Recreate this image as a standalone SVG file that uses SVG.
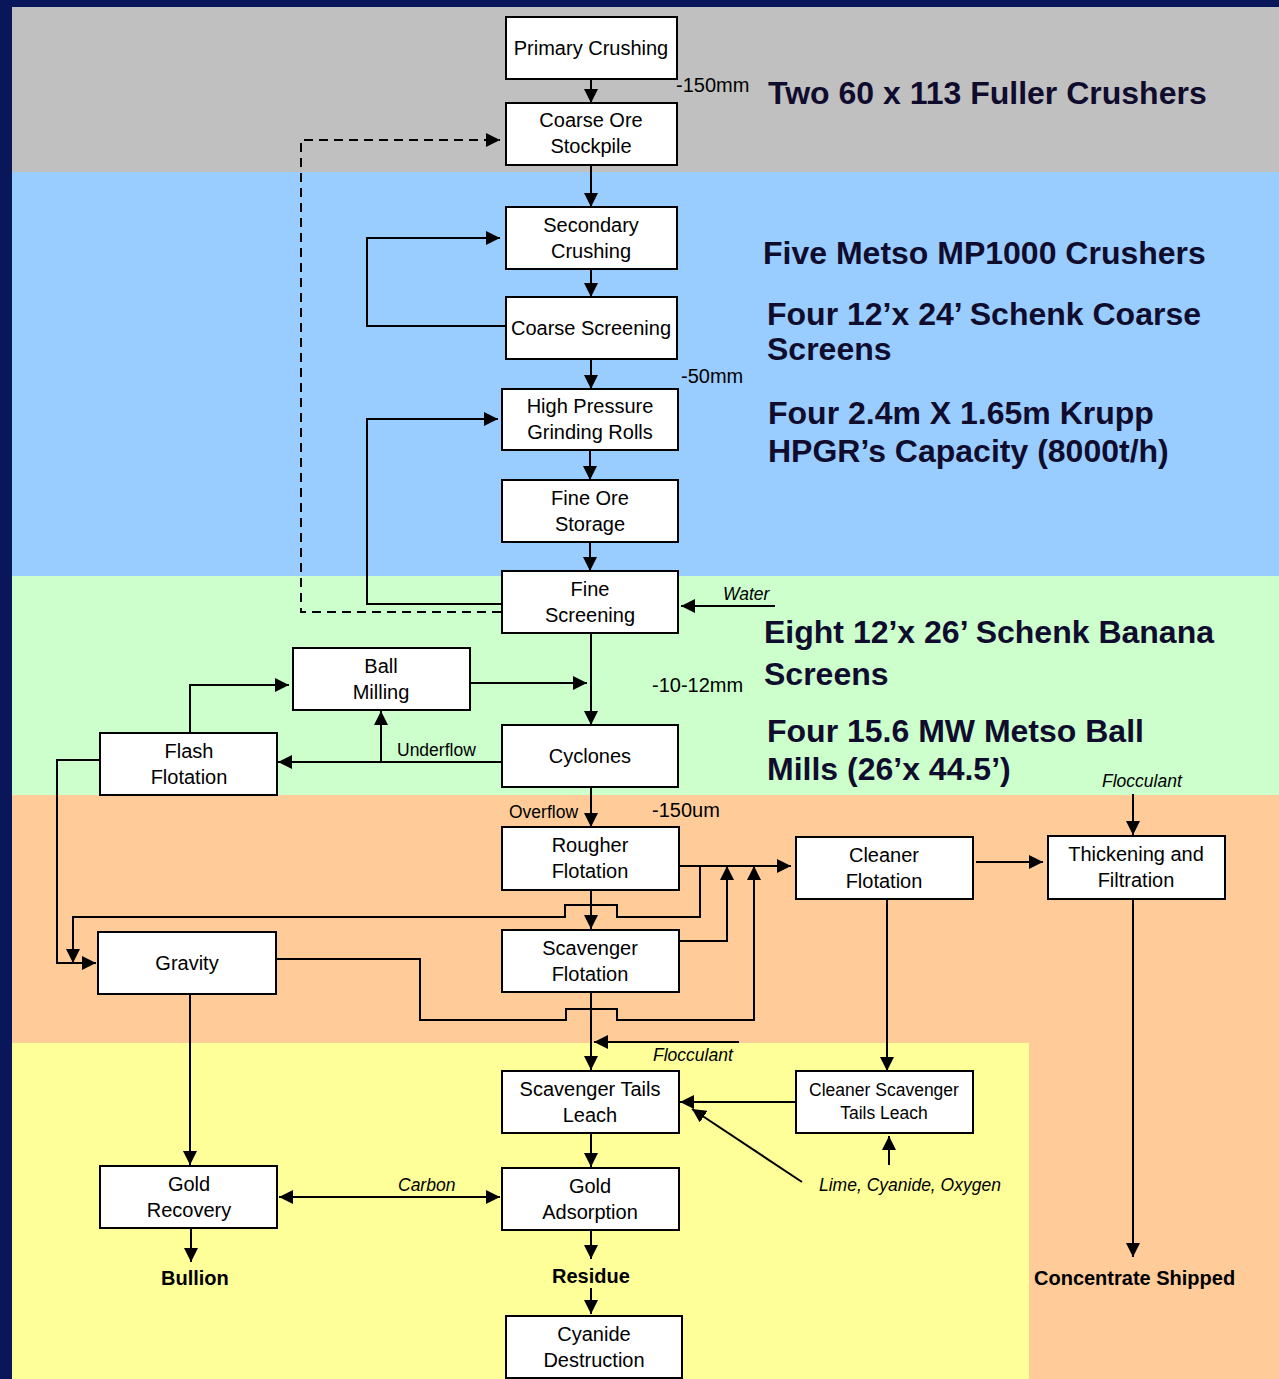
<svg xmlns="http://www.w3.org/2000/svg" width="1279" height="1379" viewBox="0 0 1279 1379">
<defs>
<marker id="ah" viewBox="0 0 14 14" markerWidth="14" markerHeight="14" refX="14" refY="7" orient="auto-start-reverse" markerUnits="userSpaceOnUse">
<path d="M0,0 L14,7 L0,14 z" fill="#000"/>
</marker>
<style>
.box{fill:#fff;stroke:#000;stroke-width:2}
.nt{font-family:"Liberation Sans",Arial,sans-serif;font-size:20px;fill:#000;text-anchor:middle}
.st{font-family:"Liberation Sans",Arial,sans-serif;font-size:17.5px;fill:#000;text-anchor:middle}
.sm{font-family:"Liberation Sans",Arial,sans-serif;font-size:20px;fill:#000}
.lb{font-family:"Liberation Sans",Arial,sans-serif;font-size:17.5px;fill:#000}
.it{font-family:"Liberation Sans",Arial,sans-serif;font-size:17.5px;font-style:italic;fill:#000}
.big{font-family:"Liberation Sans",Arial,sans-serif;font-size:32px;font-weight:bold;fill:#100c2e}
.bd{font-family:"Liberation Sans",Arial,sans-serif;font-size:20px;font-weight:bold;fill:#000}
.c{fill:none;stroke:#000;stroke-width:2}
.a{marker-end:url(#ah)}
.d{stroke-dasharray:9,6}
</style>
</defs>
<g id="background">
<rect x="0" y="0" width="1279" height="1379" fill="#0a165a"/>
<rect x="12" y="7" width="1267" height="165" fill="#c0c0c0"/>
<rect x="12" y="172" width="1267" height="404" fill="#99ccff"/>
<rect x="12" y="576" width="1267" height="219" fill="#ccffcc"/>
<rect x="12" y="795" width="1267" height="584" fill="#ffcc99"/>
<rect x="12" y="1043" width="1017" height="336" fill="#ffff99"/>
</g>
<g id="connectors">
<line class="c a" x1="591" y1="79" x2="591" y2="103"/>
<line class="c a" x1="591" y1="165" x2="591" y2="207"/>
<line class="c a" x1="591" y1="269" x2="591" y2="297"/>
<polyline class="c a" points="506,326 367,326 367,238 500,238"/>
<line class="c a" x1="591" y1="359" x2="591" y2="389"/>
<line class="c a" x1="590" y1="450" x2="590" y2="480"/>
<line class="c a" x1="590" y1="542" x2="590" y2="571"/>
<polyline class="c a" points="501,604 367,604 367,419 498,419"/>
<polyline class="c d a" points="501,612 301,612 301,140 500,140"/>
<line class="c a" x1="775" y1="606" x2="681" y2="606"/>
<line class="c a" x1="591" y1="633" x2="591" y2="725"/>
<line class="c a" x1="470" y1="683" x2="587" y2="683"/>
<line class="c a" x1="502" y1="762" x2="278" y2="762"/>
<line class="c a" x1="381" y1="762" x2="381" y2="711"/>
<polyline class="c a" points="190,733 190,685 289,685"/>
<polyline class="c a" points="100,760 57,760 57,963 96,963"/>
<line class="c a" x1="591" y1="787" x2="591" y2="827"/>
<line class="c a" x1="677" y1="866" x2="791" y2="866"/>
<polyline class="c a" points="700,866 700,917 617,917 617,905 565,905 565,917 73,917 73,963"/>
<line class="c a" x1="591" y1="890" x2="591" y2="929"/>
<polyline class="c a" points="679,941 727,941 727,866"/>
<polyline class="c a" points="274,959 420,959 420,1020 566,1020 566,1009 617,1009 617,1020 754,1020 754,866"/>
<line class="c a" x1="591" y1="992" x2="591" y2="1070"/>
<line class="c a" x1="739" y1="1042" x2="594" y2="1042"/>
<line class="c a" x1="887" y1="899" x2="887" y2="1071"/>
<line class="c a" x1="976" y1="862" x2="1043" y2="862"/>
<line class="c a" x1="1133" y1="794" x2="1133" y2="835"/>
<line class="c a" x1="1133" y1="899" x2="1133" y2="1257"/>
<line class="c a" x1="795" y1="1102" x2="680" y2="1102"/>
<line class="c a" x1="802" y1="1182" x2="692" y2="1109"/>
<line class="c a" x1="889" y1="1165" x2="889" y2="1136"/>
<line class="c a" x1="591" y1="1133" x2="591" y2="1167"/>
<line class="c a" x1="190" y1="994" x2="190" y2="1165"/>
<line class="c a" x1="279" y1="1197" x2="500" y2="1197" marker-start="url(#ah)"/>
<line class="c a" x1="191" y1="1228" x2="191" y2="1262"/>
<line class="c a" x1="591" y1="1230" x2="591" y2="1259"/>
<line class="c a" x1="591" y1="1288" x2="591" y2="1314"/>
</g>
<g id="n-primary"><rect class="box" x="506" y="17" width="171" height="62"/><text class="nt" x="591" y="55">Primary Crushing</text></g>
<g id="n-coarse-ore"><rect class="box" x="506" y="103" width="171" height="62"/><text class="nt" x="591" y="127">Coarse Ore</text><text class="nt" x="591" y="153">Stockpile</text></g>
<g id="n-secondary"><rect class="box" x="506" y="207" width="171" height="62"/><text class="nt" x="591" y="232">Secondary</text><text class="nt" x="591" y="258">Crushing</text></g>
<g id="n-coarse-screen"><rect class="box" x="506" y="297" width="171" height="62"/><text class="nt" x="591" y="335">Coarse Screening</text></g>
<g id="n-hpgr"><rect class="box" x="502" y="389" width="176" height="61"/><text class="nt" x="590" y="413">High Pressure</text><text class="nt" x="590" y="439">Grinding Rolls</text></g>
<g id="n-fine-ore"><rect class="box" x="502" y="480" width="176" height="62"/><text class="nt" x="590" y="505">Fine Ore</text><text class="nt" x="590" y="531">Storage</text></g>
<g id="n-fine-screen"><rect class="box" x="502" y="571" width="176" height="62"/><text class="nt" x="590" y="596">Fine</text><text class="nt" x="590" y="622">Screening</text></g>
<g id="n-ball"><rect class="box" x="293" y="648" width="177" height="62"/><text class="nt" x="381" y="673">Ball</text><text class="nt" x="381" y="699">Milling</text></g>
<g id="n-flash"><rect class="box" x="100" y="733" width="177" height="62"/><text class="nt" x="189" y="758">Flash</text><text class="nt" x="189" y="784">Flotation</text></g>
<g id="n-cyclones"><rect class="box" x="502" y="725" width="176" height="62"/><text class="nt" x="590" y="763">Cyclones</text></g>
<g id="n-rougher"><rect class="box" x="502" y="827" width="177" height="63"/><text class="nt" x="590" y="852">Rougher</text><text class="nt" x="590" y="878">Flotation</text></g>
<g id="n-scavenger"><rect class="box" x="502" y="930" width="177" height="62"/><text class="nt" x="590" y="955">Scavenger</text><text class="nt" x="590" y="981">Flotation</text></g>
<g id="n-cleaner"><rect class="box" x="796" y="837" width="177" height="62"/><text class="nt" x="884" y="862">Cleaner</text><text class="nt" x="884" y="888">Flotation</text></g>
<g id="n-thickening"><rect class="box" x="1048" y="836" width="177" height="63"/><text class="nt" x="1136" y="861">Thickening and</text><text class="nt" x="1136" y="887">Filtration</text></g>
<g id="n-gravity"><rect class="box" x="98" y="932" width="178" height="62"/><text class="nt" x="187" y="970">Gravity</text></g>
<g id="n-stl"><rect class="box" x="502" y="1071" width="177" height="62"/><text class="nt" x="590" y="1096">Scavenger Tails</text><text class="nt" x="590" y="1122">Leach</text></g>
<g id="n-cstl"><rect class="box" x="796" y="1071" width="177" height="62"/><text class="st" x="884" y="1096">Cleaner Scavenger</text><text class="st" x="884" y="1119">Tails Leach</text></g>
<g id="n-gold-rec"><rect class="box" x="100" y="1166" width="177" height="62"/><text class="nt" x="189" y="1191">Gold</text><text class="nt" x="189" y="1217">Recovery</text></g>
<g id="n-gold-ads"><rect class="box" x="502" y="1168" width="177" height="62"/><text class="nt" x="590" y="1193">Gold</text><text class="nt" x="590" y="1219">Adsorption</text></g>
<g id="n-cyanide"><rect class="box" x="506" y="1316" width="176" height="62"/><text class="nt" x="594" y="1341">Cyanide</text><text class="nt" x="594" y="1367">Destruction</text></g>
<g id="labels">
<text class="sm" x="676" y="92">-150mm</text>
<text class="sm" x="681" y="383">-50mm</text>
<text class="sm" x="652" y="692">-10-12mm</text>
<text class="sm" x="652" y="817">-150um</text>
<text class="lb" x="509" y="818">Overflow</text>
<text class="lb" x="397" y="756">Underflow</text>
<text class="it" x="723" y="600">Water</text>
<text class="it" x="1102" y="787">Flocculant</text>
<text class="it" x="653" y="1061">Flocculant</text>
<text class="it" x="398" y="1191">Carbon</text>
<text class="it" x="819" y="1191">Lime, Cyanide, Oxygen</text>
<text class="bd" x="161" y="1285">Bullion</text>
<text class="bd" x="552" y="1283">Residue</text>
<text class="bd" x="1034" y="1285">Concentrate Shipped</text>
<text class="big" x="768" y="104">Two 60 x 113 Fuller Crushers</text>
<text class="big" x="763" y="264">Five Metso MP1000 Crushers</text>
<text class="big" x="767" y="325">Four 12’x 24’ Schenk Coarse</text>
<text class="big" x="767" y="360">Screens</text>
<text class="big" x="768" y="424">Four 2.4m X 1.65m Krupp</text>
<text class="big" x="768" y="462">HPGR’s Capacity (8000t/h)</text>
<text class="big" x="764" y="643">Eight 12’x 26’ Schenk Banana</text>
<text class="big" x="764" y="685">Screens</text>
<text class="big" x="767" y="742">Four 15.6 MW Metso Ball</text>
<text class="big" x="767" y="780">Mills (26’x 44.5’)</text>
</g>
</svg>
